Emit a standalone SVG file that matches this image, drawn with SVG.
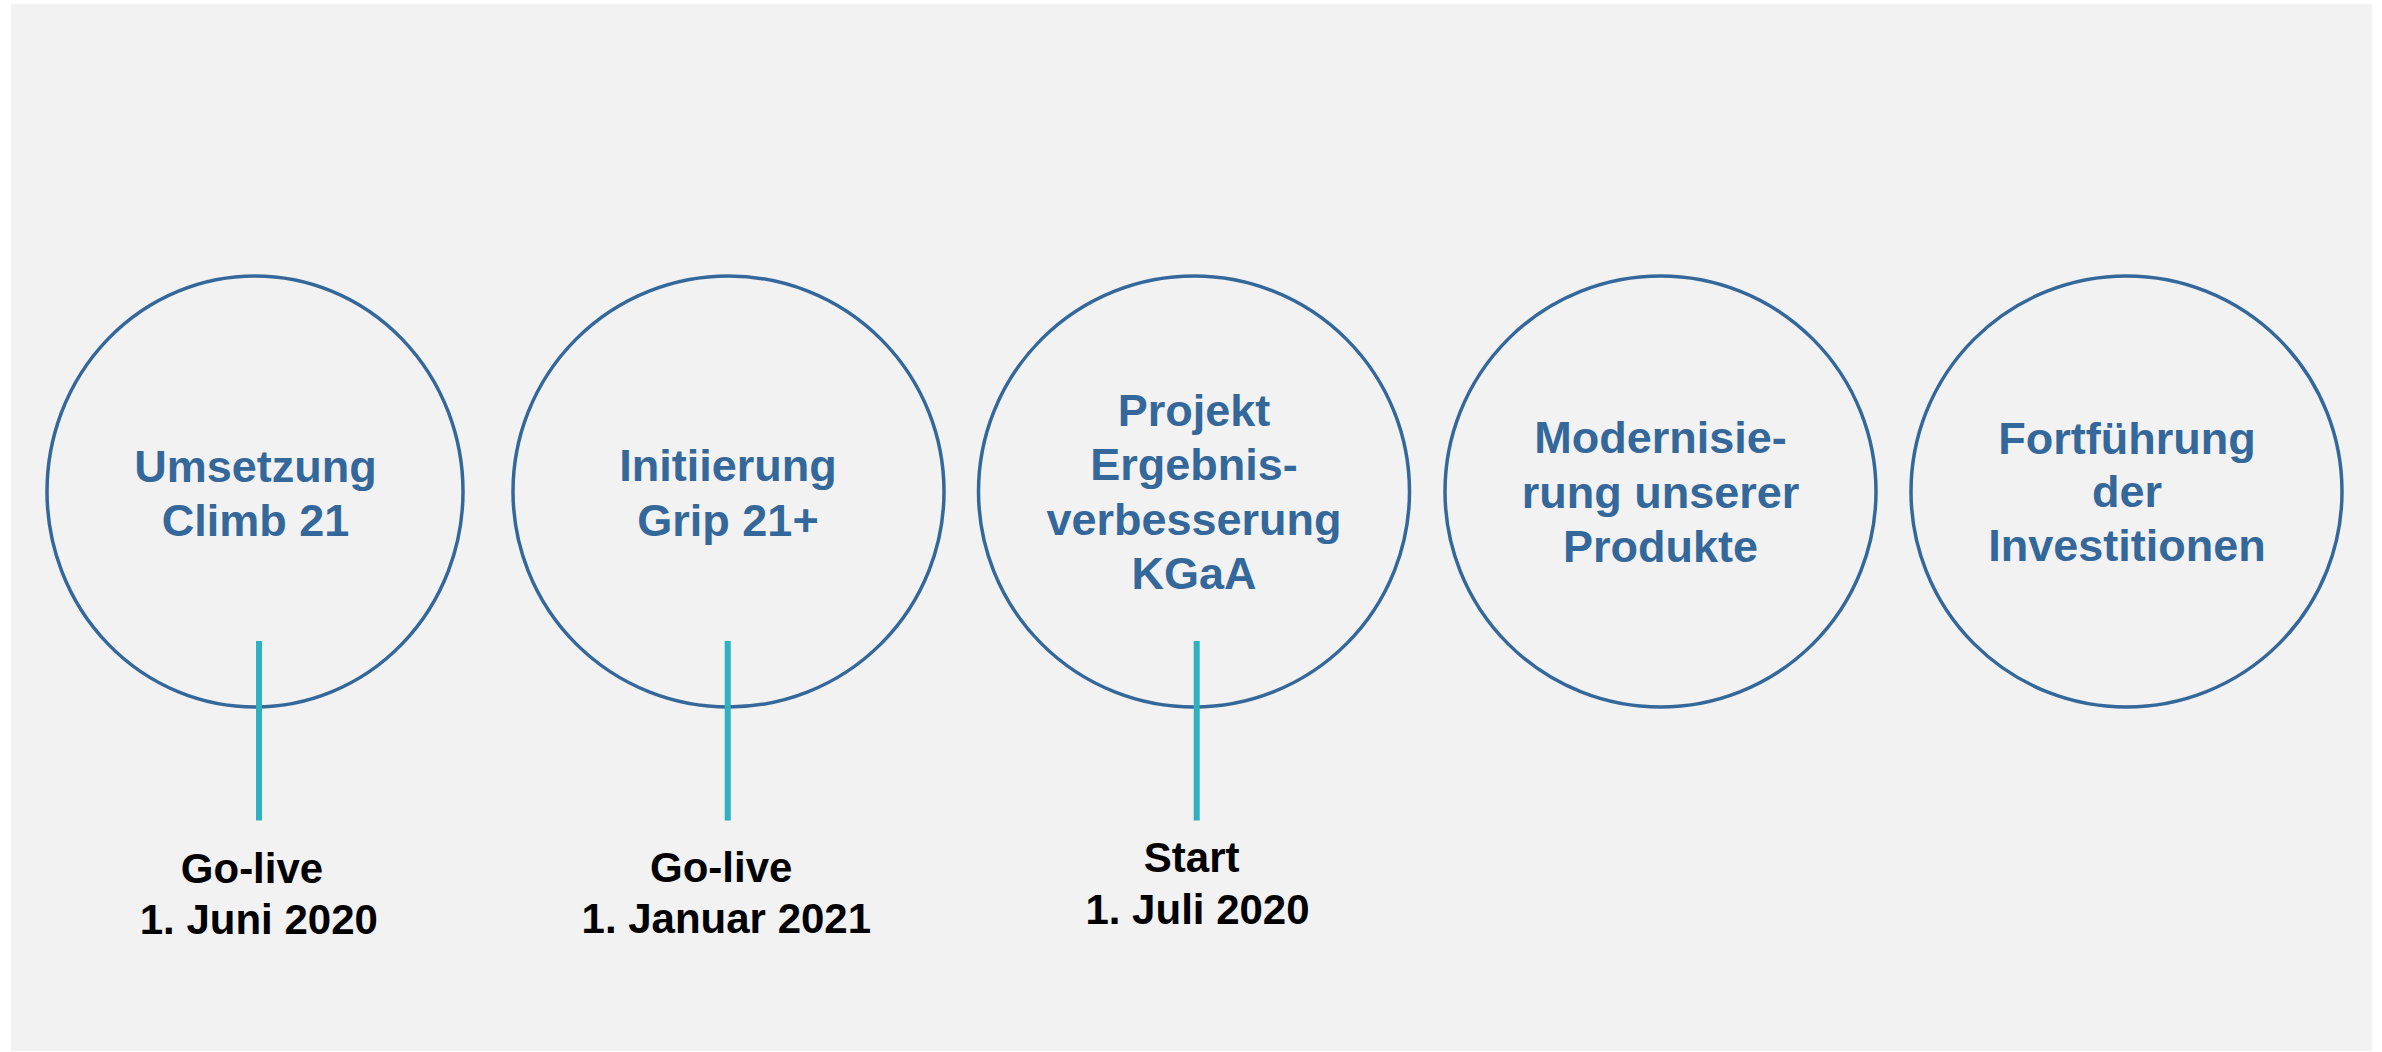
<svg xmlns="http://www.w3.org/2000/svg" width="2382" height="1052" viewBox="0 0 2382 1052">
<style>
.ring{fill:none;stroke:#34689B;stroke-width:3.5}
.t{font-family:"Liberation Sans",Arial,sans-serif;font-weight:bold;font-size:45px;fill:#34689B;text-anchor:middle}
.l{font-family:"Liberation Sans",Arial,sans-serif;font-weight:bold;font-size:42px;fill:#000;text-anchor:middle}
.c{stroke:#2FB1C0;stroke-width:6}
</style>
<rect x="0" y="0" width="2382" height="1052" fill="#fff"/>
<rect x="11" y="4" width="2361" height="1047" fill="#F2F2F2"/>
<g id="node1">
<ellipse class="ring" cx="255" cy="491.5" rx="208" ry="215.5"/>
<text class="t" x="255.5" y="482">Umsetzung</text>
<text class="t" x="255.5" y="536">Climb 21</text>
</g>
<g id="node2">
<circle class="ring" cx="728.5" cy="491.5" r="215.5"/>
<text class="t" x="728" y="481">Initiierung</text>
<text class="t" x="728" y="535.5">Grip 21+</text>
</g>
<g id="node3">
<circle class="ring" cx="1194" cy="491.5" r="215.5"/>
<text class="t" x="1194" y="426">Projekt</text>
<text class="t" x="1194" y="480">Ergebnis-</text>
<text class="t" x="1194" y="534.5">verbesserung</text>
<text class="t" x="1194" y="589">KGaA</text>
</g>
<g id="node4">
<circle class="ring" cx="1660.5" cy="491.5" r="215.5"/>
<text class="t" x="1660.5" y="453">Modernisie-</text>
<text class="t" x="1660.5" y="507.5">rung unserer</text>
<text class="t" x="1660.5" y="561.5">Produkte</text>
</g>
<g id="node5">
<circle class="ring" cx="2126.5" cy="491.5" r="215.5"/>
<text class="t" x="2127" y="454">Fortführung</text>
<text class="t" x="2127" y="507">der</text>
<text class="t" x="2127" y="561">Investitionen</text>
</g>
<g id="connectors">
<line class="c" x1="259" y1="641" x2="259" y2="820.5"/>
<line class="c" x1="727.7" y1="641" x2="727.7" y2="820.5"/>
<line class="c" x1="1196.7" y1="641" x2="1196.7" y2="820.5"/>
</g>
<g id="label1">
<text class="l" x="252" y="882.5">Go-live</text>
<text class="l" x="258.8" y="934">1. Juni 2020</text>
</g>
<g id="label2">
<text class="l" x="721.2" y="881.7">Go-live</text>
<text class="l" x="726.3" y="932.7">1. Januar 2021</text>
</g>
<g id="label3">
<text class="l" x="1191.7" y="871.7">Start</text>
<text class="l" x="1197.5" y="924">1. Juli 2020</text>
</g>
</svg>
